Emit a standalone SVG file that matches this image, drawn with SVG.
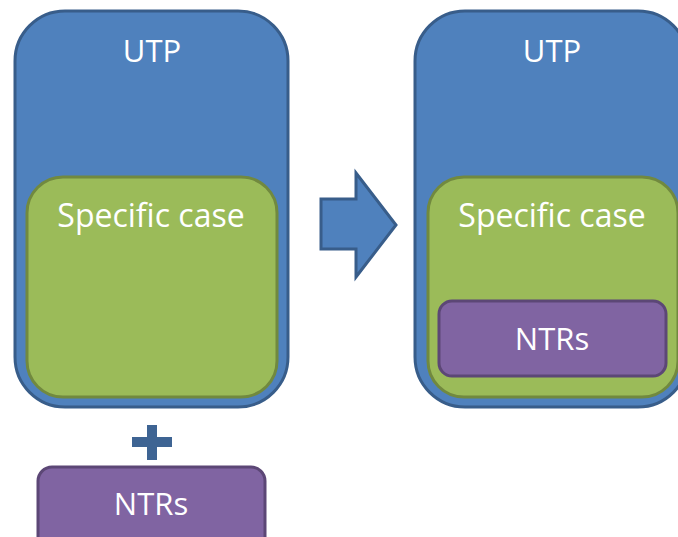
<svg xmlns="http://www.w3.org/2000/svg" width="678" height="537" viewBox="0 0 678 537">
<style>
.utp{fill:#4F81BD;stroke:#385D8A;stroke-width:3}
.sc{fill:#9BBB59;stroke:#71893F;stroke-width:3}
.ntr{fill:#8064A2;stroke:#5C4776;stroke-width:3}
.t{font-family:"Open Sans","Liberation Sans",sans-serif;fill:#fff;text-anchor:middle}
</style>
<rect width="678" height="537" fill="#fff"/>
<g id="utp-left">
<rect class="utp" x="15" y="11" width="273" height="396" rx="50"/>
<text class="t" x="152" y="62" font-size="31">UTP</text>
</g>
<g id="specific-left">
<rect class="sc" x="27" y="177" width="250" height="220" rx="36"/>
<text class="t" x="151" y="227" font-size="32">Specific case</text>
</g>
<g id="plus">
<rect x="132" y="437" width="40" height="10" fill="#3E6493"/>
<rect x="147" y="425" width="10" height="35" fill="#3E6493"/>
</g>
<g id="ntrs-left">
<rect class="ntr" x="38" y="467" width="227" height="90" rx="14"/>
<text class="t" x="151" y="515" font-size="31">NTRs</text>
</g>
<g id="connectors">
<polygon points="321,199 356,199 356,173 396,225 356,277 356,249 321,249" fill="#4F81BD" stroke="#385D8A" stroke-width="3" stroke-linejoin="miter"/>
</g>
<g id="utp-right">
<rect class="utp" x="415" y="11" width="273" height="396" rx="50"/>
<text class="t" x="552" y="62" font-size="31">UTP</text>
</g>
<g id="specific-right">
<rect class="sc" x="428" y="177" width="250" height="220" rx="36"/>
<text class="t" x="552" y="227" font-size="32">Specific case</text>
</g>
<g id="ntrs-right">
<rect class="ntr" x="439" y="301" width="227" height="75" rx="13"/>
<text class="t" x="552" y="350" font-size="31">NTRs</text>
</g>
</svg>
